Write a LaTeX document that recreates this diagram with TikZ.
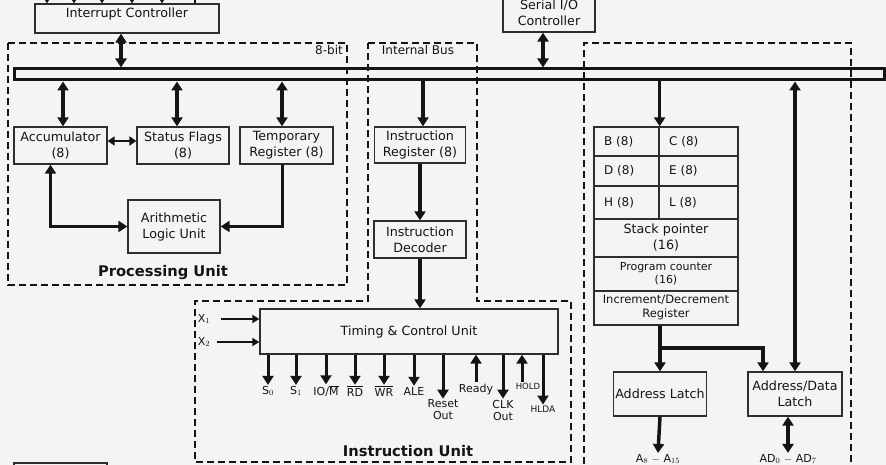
\documentclass[tikz,border=0pt]{standalone}
\usepackage{fontspec}
\setmainfont{DejaVu Sans}
\usetikzlibrary{arrows.meta,positioning}
\definecolor{cpaper}{HTML}{F4F4F4}
\definecolor{cink}{HTML}{141414}
\definecolor{cedge}{HTML}{2E2E2E}
\tikzset{
  box/.style={draw=cedge,line width=1.3pt,align=center,text=cink,font=\fontsize{12.7}{16}\selectfont,inner sep=2pt},
  cell/.style={draw=cedge,line width=1.3pt,text=cink,font=\fontsize{12}{14}\selectfont,inner xsep=10pt,inner ysep=0pt,text width=#1,align=left},
  wcell/.style={draw=cedge,line width=1.3pt,text=cink,align=center,inner sep=0pt,minimum width=144pt,text width=140pt},
  bus/.style={draw=cink,line width=3pt},
  region/.style={draw=cink,line width=2.5pt,dash pattern=on 7pt off 4pt},
  arr/.style={-{Triangle[length=9pt,width=11pt]},line width=3.5pt,draw=cink},
  darr/.style={{Triangle[length=9pt,width=11pt]}-{Triangle[length=9pt,width=11pt]},line width=3.5pt,draw=cink},
  sarr/.style={-{Triangle[length=7pt,width=8pt]},line width=2pt,draw=cink},
  tarr/.style={-{Triangle[length=5pt,width=6pt]},line width=1.5pt,draw=cink},
  sig/.style={text=cink,font=\fontsize{11}{12}\selectfont,align=center,inner sep=1pt},
  title/.style={text=cink,font=\bfseries\fontsize{14.7}{17}\selectfont},
  tag/.style={text=cink,font=\fontsize{12}{13}\selectfont},
}
\begin{document}
\begin{tikzpicture}[x=1pt,y=-1pt]
  \useasboundingbox (0,0) rectangle (886,465);
  \clip (0,0) rectangle (886,465);
  \fill[cpaper] (0,0) rectangle (886,465);
  % dashed regions
  \draw[region] (8,43) rectangle (347,285);
  \draw[region] (368,43) -- (477,43) -- (477,301) -- (571,301) -- (571,462) -- (195,462) -- (195,301) -- (368,301) -- cycle;
  \draw[region] (584,475) -- (584,43) -- (851,43) -- (851,475);
  \node[tag] (bits) at (329,50) {8-bit};
  \node[tag] (ibus) at (418,50) {Internal Bus};
  % 8-bit bus
  \node[bus,minimum width=870pt,minimum height=11pt] (bus) at (449,74.5) {};
  % interrupt and serial controllers
  \node[box,minimum width=184pt,minimum height=29pt,label={[box,draw=none,anchor=north,yshift=-1.5pt]north:Interrupt Controller}] (ic) at (127,18.5) {};
  \foreach \x [count=\i] in {47,74,102,132,162} {
    \coordinate (irq\i) at (\x,-8);
    \draw[tarr] (irq\i) -- (irq\i |- ic.north);
  }
  \coordinate (irq6) at (195,-8);
  \draw[line width=1.5pt,draw=cink] (irq6) -- (irq6 |- ic.north);
  \draw[darr] (ic.south -| 121,0) -- (bus.north -| 121,0);
  \node[box,minimum width=92pt,minimum height=38pt] (sio) at (549,13) {Serial I/O\\Controller};
  \draw[darr] (sio.south -| 543,0) -- (bus.north -| 543,0);
  % processing unit
  \node[box,minimum width=93pt,minimum height=37pt] (acc) at (60.5,145.5) {Accumulator\\(8)};
  \node[box,minimum width=92pt,minimum height=37pt] (sf) at (183,145.5) {Status Flags\\(8)};
  \node[box,minimum width=93pt,minimum height=37pt] (tmp) at (286.5,145.5) {Temporary\\Register (8)};
  \node[box,minimum width=92pt,minimum height=53pt] (alu) at (174,226.5) {Arithmetic\\Logic Unit};
  \foreach \n/\x in {acc/63,sf/177,tmp/282} \draw[darr] (bus.south -| \x,0) -- (\n.north -| \x,0);
  \draw[darr,{Triangle[length=7pt,width=9pt]}-{Triangle[length=7pt,width=9pt]},line width=2.5pt] ([yshift=4.5pt]acc.east) -- ([yshift=4.5pt]sf.west);
  \draw[darr] ([xshift=-10pt]acc.south) |- (alu.west);
  \draw[arr] ([xshift=-4pt]tmp.south) |- (alu.east);
  \node[title] (pu) at (163,273) {Processing Unit};
  % instruction path
  \node[box,minimum width=91pt,minimum height=36pt] (ir) at (420,145) {Instruction\\Register (8)};
  \node[box,minimum width=92pt,minimum height=37pt] (dec) at (420,239.5) {Instruction\\Decoder};
  \draw[arr] (bus.south -| 423,0) -- (ir.north -| 423,0);
  \draw[arr] (ir) -- (dec);
  \node[box,minimum width=298pt,minimum height=45pt] (tcu) at (409,331.5) {Timing \& Control Unit};
  \draw[arr] (dec.south) -- (dec.south |- tcu.north);
  % clock inputs
  \node[sig] (x1) at (204,319) {X$_1$};
  \node[sig] (x2) at (204,342) {X$_2$};
  \draw[sarr] ([xshift=10pt]x1.east) -- (x1.east -| tcu.west);
  \draw[sarr] ([xshift=6pt]x2.east) -- (x2.east -| tcu.west);
  % control signals
  \foreach \n/\x/\t in {s0/268/{S$_0$},s1/296/{S$_1$},iom/326/{IO/$\overline{\mbox{M}}$},rd/355/{$\overline{\mbox{RD}}$},wr/384/{$\overline{\mbox{WR}}$},ale/414/{ALE}} {
    \node[sig] (\n) at (\x,391) {\t};
    \draw[arr,line width=3pt] (tcu.south -| \n.north) -- (\n.north);
  }
  \node[sig] (rst) at (443,410) {Reset\\Out};
  \node[sig] (clk) at (503,410) {CLK\\Out};
  \node[sig,font=\fontsize{9}{11}\selectfont] (hlda) at (543,409) {HLDA};
  \node[sig] (rdy) at (476,389) {Ready};
  \node[sig,font=\fontsize{8.5}{10}\selectfont] (hold) at (528,386) {HOLD};
  \foreach \n in {rst,clk,hlda} \draw[arr,line width=3pt] (tcu.south -| \n.north) -- (\n.north);
  \draw[arr,line width=3pt] (rdy.north) -- (rdy.north |- tcu.south);
  \draw[arr,line width=3pt] (hold.north -| 522,0) -- (tcu.south -| 522,0);
  \node[title] (iu) at (408,451) {Instruction Unit};
  % register array
  \node[cell=45pt,minimum height=29pt] (rb) at (626.5,141.5) {B (8)};
  \node[cell=59pt,minimum height=29pt] (rc) at (698.5,141.5) {C (8)};
  \node[cell=45pt,minimum height=30pt] (rd8) at (626.5,171) {D (8)};
  \node[cell=59pt,minimum height=30pt] (re) at (698.5,171) {E (8)};
  \node[cell=45pt,minimum height=33pt] (rh) at (626.5,202.5) {H (8)};
  \node[cell=59pt,minimum height=33pt] (rl) at (698.5,202.5) {L (8)};
  \node[wcell,minimum height=38pt,font=\fontsize{12.7}{16}\selectfont] (sp) at (666,238) {Stack pointer\\(16)};
  \node[wcell,minimum height=34pt,font=\fontsize{11}{13}\selectfont] (pc) at (666,274) {Program counter\\(16)};
  \node[wcell,minimum height=34pt,font=\fontsize{11.5}{14}\selectfont] (idr) at (666,308) {Increment/Decrement\\Register};
  \draw[arr] (bus.south -| rb.north east) -- (rb.north east);
  % address latches
  \node[box,minimum width=93pt,minimum height=44pt] (al) at (660,394) {Address Latch};
  \node[box,minimum width=94pt,minimum height=44pt] (adl) at (795,394) {Address/Data\\Latch};
  \draw[arr] (idr.south -| al.north) -- (al.north);
  \coordinate (fork) at (763,348);
  \draw[arr] (al.north |- fork) -| (fork |- adl.north);
  \draw[darr] (adl.north) -- (adl.north |- bus.south);
  \node[sig,font=\fontsize{11}{12}\selectfont] (ahi) at (658,459) {A$_8$ $-$ A$_{15}$};
  \node[sig,font=\fontsize{11}{12}\selectfont] (ad) at (788,459) {AD$_0$ $-$ AD$_7$};
  \draw[arr] (al.south) -- (ahi.north);
  \draw[darr] (adl.south -| ad.north) -- (ad.north);
  % box cut by the lower edge
  \node[box,minimum width=93pt,minimum height=20pt] (ext) at (60.5,473) {};
\end{tikzpicture}
\end{document}
